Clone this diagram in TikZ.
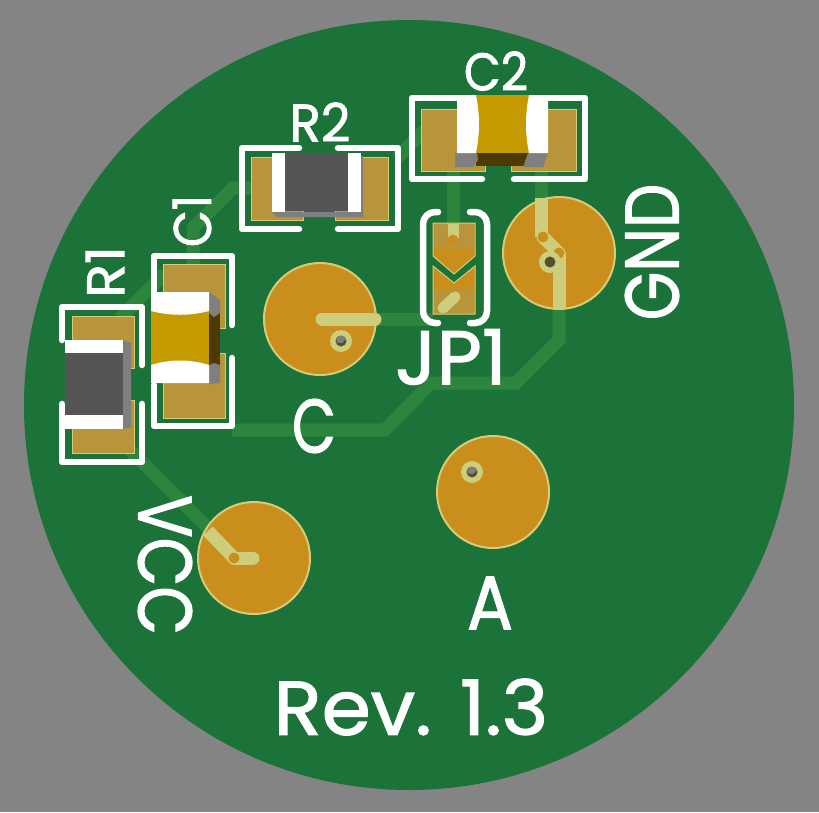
\documentclass[tikz,border=0pt]{standalone}
\usepackage{fontspec}
\setmainfont[RawFeature={embolden=1.5}]{Poppins}
\definecolor{board}{HTML}{1C7339}
\definecolor{outside}{HTML}{848484}
\definecolor{copper}{HTML}{2C853C}
\definecolor{padgold}{HTML}{C98E1C}
\definecolor{padedge}{HTML}{D8CB77}
\definecolor{smdgold}{HTML}{B8943A}
\definecolor{padtrace}{HTML}{CDCD7B}
\definecolor{capgold}{HTML}{C49A00}
\definecolor{capdark}{HTML}{4D3A00}
\definecolor{resdark}{HTML}{555555}
\definecolor{sidegray}{HTML}{7F7F7F}
\definecolor{holedark}{HTML}{55502F}

\begin{document}
\begin{tikzpicture}[x=1pt,y=-1pt,
    % styles
    trace/.style={copper,line width=13pt},
    pad trace/.style={padtrace,line width=13pt,line cap=round},
    round pad/.style={fill=padgold,draw=padedge,line width=2pt},
    smd pad/.style={fill=smdgold,draw=padedge,line width=1pt},
    silk/.style={white,line width=6.5pt,line cap=round,line join=round},
    white end/.style={fill=white},
    side/.style={fill=sidegray},
    small text/.style={white,font=\fontsize{53}{53}\selectfont},
    large text/.style={white,font=\fontsize{76}{76}\selectfont}]

  \useasboundingbox (0,0) rectangle (819,812);

  % board
  \fill[outside] (0,0) rectangle (819,812);
  \fill[board] (409,405) circle (385);

  % traces
  \draw[trace] (541,165) -- (541,200);
  \draw[trace] (559,300) -- (559,340) -- (516,383) -- (431,383) -- (385,430) -- (232,430);
  \draw[trace] (453,165) -- (453,225);
  \draw[trace] (375,319) -- (433,319);
  \draw[trace] (425,130) -- (397,158);
  \draw[trace] (252,188) -- (233,188) -- (193,228) -- (193,266);
  \draw[trace] (120,318) -- (165,273);
  \draw[trace] (130,450) -- (212,532);

  % round pads
  \foreach \x/\y in {320/319,559/253,254/558,493/492}
    \filldraw[round pad] (\x,\y) circle (56);

  % smd pads
  \foreach \x/\y/\w/\h in {421/109/64/62,511/109/65/62,251/157/52/63,335/157/53/63,
      72/316/62/52,72/400/62/53,163/264/62/64,163/353/62/65}
    \filldraw[smd pad] (\x,\y) rectangle +(\w,\h);

  % jumper
  \filldraw[fill=padgold,draw=padedge,line width=1pt] (433,223) -- (475,223) -- (475,256)
    -- (454,274) -- (433,256) -- cycle;
  \filldraw[fill=padgold,draw=padedge,line width=1pt] (433,266) -- (454,283) -- (475,266)
    -- (475,314) -- (433,314) -- cycle;
  \fill[smdgold] (434,224) rectangle (474,248);
  \fill[smdgold] (434,290) rectangle (474,313);

  % traces on pads
  \draw[pad trace,line cap=butt] (541,198) -- (541,237);
  \draw[pad trace,line cap=butt] (559,253) -- (559,308);
  \draw[pad trace] (543,237) -- (559,253);
  \draw[pad trace,line width=11pt,line cap=butt] (453,224) -- (453,238);
  \draw[pad trace,line width=11pt] (443,308) -- (455,297);
  \draw[pad trace] (322,319) -- (375,319);
  \draw[pad trace,line cap=butt] (208,531) -- (234,558);
  \draw[pad trace] (234,558) -- (253,558);
  \foreach \x/\y in {543/237,559/253,453/240,234/558}
    \fill[padgold] (\x,\y) circle (5.5);

  % holes
  \foreach \x/\y in {550/262,341/341,472/472} {
    \fill[padtrace] (\x,\y) circle (11);
    \fill[holedark] (\x,\y) circle (5.5);
  }
  \foreach \x/\y in {341/341,472/472}
    \fill[sidegray] (\x+1,\y+2) -- (\x+5,\y-2) arc (-20:-200:5) -- cycle;

  % silkscreen
  \draw[silk] (482,179) -- (412,179) -- (412,98) -- (460,98);
  \draw[silk] (545,98) -- (585,98) -- (585,179) -- (514,179);
  \draw[silk] (299,148) -- (242,148) -- (242,229) -- (299,229);
  \draw[silk] (338,148) -- (398,148) -- (398,229) -- (338,229);
  \draw[silk] (62,340) -- (62,307) -- (142,307) -- (142,365);
  \draw[silk] (62,404) -- (62,462) -- (142,462) -- (142,404);
  \draw[silk] (154,295) -- (154,256) -- (232,256) -- (232,325);
  \draw[silk] (232,358) -- (232,426) -- (154,426) -- (154,385);
  \draw[silk,rounded corners=12pt] (438,212) -- (423,212) -- (423,323) -- (438,323);
  \draw[silk,rounded corners=12pt] (470,212) -- (487,212) -- (487,323) -- (470,323);

  % C2 body
  \fill[capdark] (476,153) rectangle (530,166);
  \fill[capgold] (474,95) rectangle (530,153);
  \fill[side] (455,153) -- (477,153) -- (478,160) -- (473,167) -- (455,167) -- cycle;
  \fill[side] (528,153) -- (548,153) -- (543,167) -- (523,167) -- cycle;
  \fill[white end] (457,95) -- (476,95) .. controls (480,115) and (480,133) .. (476,153) -- (457,153) -- cycle;
  \fill[white end] (548,95) -- (529,95) .. controls (525,115) and (525,133) .. (529,153) -- (548,153) -- cycle;

  % R2 body
  \fill[side] (272,212) -- (361,212) -- (361,156) -- (363,156) -- (363,217) -- (277,217) -- cycle;
  \fill[resdark] (285,153) rectangle (348,211);
  \fill[white end] (272,153) rectangle (285,212);
  \fill[white end] (348,153) rectangle (361,212);

  % R1 body
  \fill[side] (123,340) -- (131,343) -- (131,427) -- (123,429) -- cycle;
  \fill[resdark] (65,353) rectangle (123,415);
  \fill[white end] (65,340) rectangle (123,353);
  \fill[white end] (65,415) rectangle (123,429);

  % C1 body
  \fill[capdark] (209,305) rectangle (220,375);
  \fill[capgold] (151,308) rectangle (209,368);
  \fill[side] (209,292) -- (220,300) -- (220,313) -- (214,317) -- (209,313) -- cycle;
  \fill[side] (209,365) -- (214,363) -- (220,365) -- (220,383) -- (209,384) -- cycle;
  \fill[white end] (151,292) -- (209,292) -- (209,311) .. controls (190,316) and (170,316) .. (151,311) -- cycle;
  \fill[white end] (151,383) -- (209,383) -- (209,365) .. controls (190,359) and (170,359) .. (151,365) -- cycle;

  % text
  \node[small text,xscale=.9] (c2 label) at (496,71) {C2};
  \node[small text,xscale=.97] (r2 label) at (320,122) {R2};
  \node[small text,rotate=90,xscale=1.05] (r1 label) at (105,272) {R1};
  \node[small text,rotate=90,xscale=.9] (c1 label) at (192,221) {C1};
  \node[large text,xscale=1.03] (jp1 label) at (451,357) {JP1};
  \node[large text,rotate=90,xscale=.82] (gnd label) at (652,252) {GND};
  \node[large text,rotate=-90,xscale=.83] (vcc label) at (165,565) {VCC};
  \node[large text,xscale=.75] (c label) at (314,426) {C};
  \node[large text,xscale=.9] (a label) at (490,603) {A};
  \node[large text,xscale=1.04] (rev label) at (411,707) {Rev. 1.3};
\end{tikzpicture}
\end{document}
